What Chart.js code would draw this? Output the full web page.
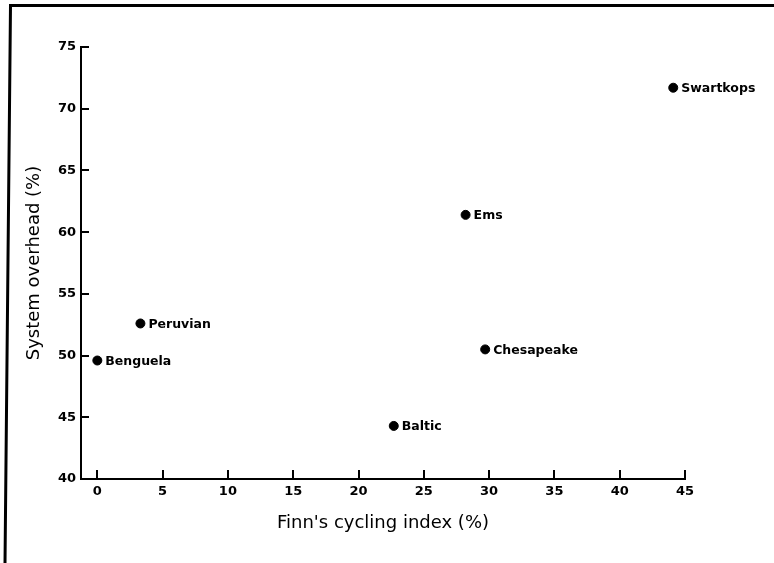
<!DOCTYPE html>
<html>
<head>
<meta charset="utf-8">
<title>System overhead vs Finn's cycling index</title>
<script src="https://cdn.jsdelivr.net/npm/chart.js@4/dist/chart.umd.min.js"></script>
<style>
html,body{margin:0;padding:0;background:#fff;}
#wrap{position:relative;width:774px;height:563px;}
</style>
</head>
<body>
<div id="wrap"><canvas id="scatterChart" width="774" height="563"></canvas></div>
<script>
// Values
const systems = ['Benguela', 'Peruvian', 'Baltic', 'Ems', 'Chesapeake', 'Swartkops'];
const cyclingIndex = [0, 3.3, 22.7, 28.2, 29.7, 44.1];
const overhead = [49.6, 52.6, 44.3, 61.4, 50.5, 71.7];
const xTicks = [0, 5, 10, 15, 20, 25, 30, 35, 40, 45];
const yTicks = [40, 45, 50, 55, 60, 65, 70, 75];

Chart.defaults.font.family = '"DejaVu Sans", sans-serif';
Chart.defaults.color = '#000';

// frame, inward ticks and point names
const extras = {
  id: 'extras',
  afterDraw(chart){
    const ctx = chart.ctx;
    const xs = chart.scales.x, ys = chart.scales.y;
    const area = chart.chartArea;
    ctx.save();
    ctx.strokeStyle = '#000';
    ctx.lineCap = 'butt';

    // outer frame (left and top only, as scanned)
    ctx.lineWidth = 3;
    ctx.beginPath();
    ctx.moveTo(774, 5.5);
    ctx.lineTo(10.5, 5.5);
    ctx.lineTo(5, 563);
    ctx.stroke();

    // ticks pointing into the plot
    ctx.lineWidth = 2;
    ctx.beginPath();
    xTicks.forEach(v=>{
      const px = Math.round(xs.getPixelForValue(v));
      ctx.moveTo(px, area.bottom);
      ctx.lineTo(px, area.bottom - 9);
    });
    yTicks.forEach(v=>{
      const py = Math.round(ys.getPixelForValue(v));
      ctx.moveTo(area.left, py);
      ctx.lineTo(area.left + 8, py);
    });
    ctx.stroke();

    // names next to points
    const meta = chart.getDatasetMeta(0);
    ctx.fillStyle = '#000';
    ctx.font = 'bold 12.5px "DejaVu Sans", sans-serif';
    ctx.textAlign = 'left';
    ctx.textBaseline = 'middle';
    meta.data.forEach((pt, i)=>{
      ctx.fillText(systems[i], pt.x + 8, pt.y + 1);
    });
    ctx.restore();
  }
};

const ctx = document.getElementById('scatterChart').getContext('2d');
const chart = new Chart(ctx, {
  type: 'scatter',
  data: {
    datasets: [{
      label: 'Systems',
      data: systems.map((s, i)=>({x: cyclingIndex[i], y: overhead[i]})),
      backgroundColor: '#000',
      borderColor: '#000',
      pointRadius: 4.5,
      pointHoverRadius: 4.5
    }]
  },
  options: {
    responsive: false,
    animation: false,
    devicePixelRatio: 1,
    layout: {padding: {top: 47, right: 89, left: 0, bottom: 0}},
    plugins: {legend: {display: false}, tooltip: {enabled: false}},
    scales: {
      x: {
        type: 'linear',
        min: -1.25,
        max: 45,
        afterBuildTicks: s=>{ s.ticks = xTicks.map(v=>({value: v})); },
        afterFit: s=>{ s.height = 84; },
        grid: {display: false, drawTicks: false},
        border: {display: true, color: '#000', width: 2},
        ticks: {padding: 5, font: {size: 13, weight: 'bold'}, color: '#000', maxRotation: 0},
        title: {
          display: true,
          text: "Finn's cycling index (%)",
          font: {size: 18},
          color: '#000',
          padding: {top: 0, bottom: 29}
        }
      },
      y: {
        type: 'linear',
        min: 40,
        max: 75,
        afterBuildTicks: s=>{ s.ticks = yTicks.map(v=>({value: v})); },
        afterFit: s=>{ s.width = 81; },
        grid: {display: false, drawTicks: false},
        border: {display: true, color: '#000', width: 2},
        ticks: {padding: 5, font: {size: 13, weight: 'bold'}, color: '#000'},
        title: {
          display: true,
          text: 'System overhead (%)',
          font: {size: 18},
          color: '#000',
          padding: {top: 24, bottom: 0}
        }
      }
    }
  },
  plugins: [extras]
});
</script>
</body>
</html>
